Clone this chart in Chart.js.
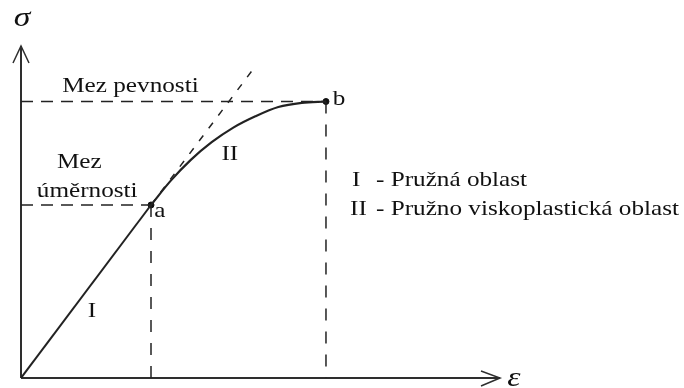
<!DOCTYPE html>
<html>
<head>
<meta charset="utf-8">
<script src="https://cdn.jsdelivr.net/npm/chart.js@4"></script>
<style>
    body { margin: 0; background: #ffffff; }
    canvas { display: block; }
</style>
</head>
<body>
<canvas id="stressStrain" width="684" height="388"></canvas>
<script>
// values (strain / stress, 0-100 on both axes)
const elasticX = [0, 27.14];
const elasticY = [0, 52.11];
const plasticX = [27.14, 31.23, 35.45, 39.81, 44.32, 48.93, 53.72, 58.62, 63.67];
const plasticY = [52.11, 59.37, 65.69, 71.02, 75.42, 78.83, 81.63, 82.89, 83.28];
const tangentX = [27.14, 48.2];
const tangentY = [52.11, 92.5];
const pointNames = ['a', 'b'];
const pointX = [27.14, 63.67];
const pointY = [52.11, 83.28];
const axisMax = 100;

function toPoints(xs, ys) {
    return xs.map((x, i) => ({ x: x, y: ys[i] }));
}

const lineColor = '#222222';
const textColor = '#111111';
const stretch = 1.2;

// text labels: [text, x, y, align, size, italic]
const textLabels = [
    ['\u03c3', 0.2, 106.0, 'center', 28, true],
    ['\u03b5', 102.9, -2.5, 'center', 28, true],
    ['Mez pevnosti', 8.6, 86.1, 'left', 21, false],
    ['Mez', 7.5, 63.3, 'left', 21, false],
    ['úměrnosti', 3.3, 54.5, 'left', 21, false],
    [pointNames[0], 27.8, 48.5, 'left', 21, false],
    [pointNames[1], 65.1, 82.2, 'left', 21, false],
    ['I', 14.8, 18.4, 'center', 21, false],
    ['II', 43.6, 65.7, 'center', 21, false],
    ['I', 69.1, 57.8, 'left', 21, false],
    ['- Pružná oblast', 74.1, 57.8, 'left', 21, false],
    ['II', 68.7, 49.1, 'left', 21, false],
    ['- Pružno viskoplastická oblast', 74.1, 49.1, 'left', 21, false]
];

const axesAndTextPlugin = {
    id: 'axesAndText',
    beforeDatasetsDraw(chart) {
        const ctx = chart.ctx;
        const area = chart.chartArea;
        ctx.save();
        ctx.strokeStyle = '#2e2e2e';
        ctx.lineWidth = 2;
        ctx.beginPath();
        ctx.moveTo(area.left, area.bottom);
        ctx.lineTo(area.left, area.top);
        ctx.moveTo(area.left, area.bottom);
        ctx.lineTo(area.right, area.bottom);
        ctx.stroke();
        ctx.lineWidth = 1.5;
        ctx.beginPath();
        ctx.moveTo(area.left - 8, area.top + 17);
        ctx.lineTo(area.left, area.top);
        ctx.lineTo(area.left + 8, area.top + 17);
        ctx.moveTo(area.right - 19, area.bottom - 7);
        ctx.lineTo(area.right, area.bottom);
        ctx.lineTo(area.right - 19, area.bottom + 8);
        ctx.stroke();
        ctx.restore();
    },
    afterDraw(chart) {
        const ctx = chart.ctx;
        const xScale = chart.scales.x;
        const yScale = chart.scales.y;
        ctx.save();
        ctx.fillStyle = textColor;
        ctx.textBaseline = 'alphabetic';
        textLabels.forEach(([text, x, y, align, size, italic]) => {
            ctx.save();
            ctx.translate(xScale.getPixelForValue(x), yScale.getPixelForValue(y));
            ctx.scale(stretch, 1);
            ctx.font = (italic ? 'italic ' : '') + size + 'px "Liberation Serif", serif';
            ctx.textAlign = align;
            ctx.fillText(text, 0, 0);
            ctx.restore();
        });
        ctx.restore();
    }
};

function dashedLine(points, dash) {
    return {
        data: points,
        borderColor: lineColor,
        borderWidth: 1.5,
        borderDash: dash,
        pointRadius: 0,
        showLine: true,
        tension: 0
    };
}

const ctx = document.getElementById('stressStrain').getContext('2d');
new Chart(ctx, {
    type: 'scatter',
    data: {
        datasets: [
            dashedLine([{ x: 0, y: elasticY[1] }, { x: elasticX[1], y: elasticY[1] }], [12, 8]),
            dashedLine([{ x: 0, y: pointY[1] }, { x: pointX[1], y: pointY[1] }], [12, 8]),
            dashedLine([{ x: pointX[0], y: pointY[0] }, { x: pointX[0], y: 0 }], [12, 11]),
            dashedLine([{ x: pointX[1], y: pointY[1] }, { x: pointX[1], y: 0 }], [12, 11]),
            dashedLine(toPoints(tangentX, tangentY), [7, 9]),
            {
                data: toPoints(elasticX, elasticY),
                borderColor: lineColor,
                borderWidth: 2,
                pointRadius: 0,
                showLine: true,
                tension: 0
            },
            {
                data: toPoints(plasticX, plasticY),
                borderColor: lineColor,
                borderWidth: 2.2,
                pointRadius: 0,
                showLine: true,
                cubicInterpolationMode: 'monotone'
            },
            {
                data: toPoints(pointX, pointY),
                backgroundColor: '#111111',
                borderColor: '#111111',
                pointRadius: 3,
                showLine: false
            }
        ]
    },
    options: {
        responsive: false,
        animation: false,
        layout: {
            padding: { left: 21, right: 184, top: 46, bottom: 10 }
        },
        plugins: {
            legend: { display: false },
            tooltip: { enabled: false }
        },
        scales: {
            x: { type: 'linear', display: false, min: 0, max: axisMax },
            y: { type: 'linear', display: false, min: 0, max: axisMax }
        }
    },
    plugins: [axesAndTextPlugin]
});
</script>
</body>
</html>
